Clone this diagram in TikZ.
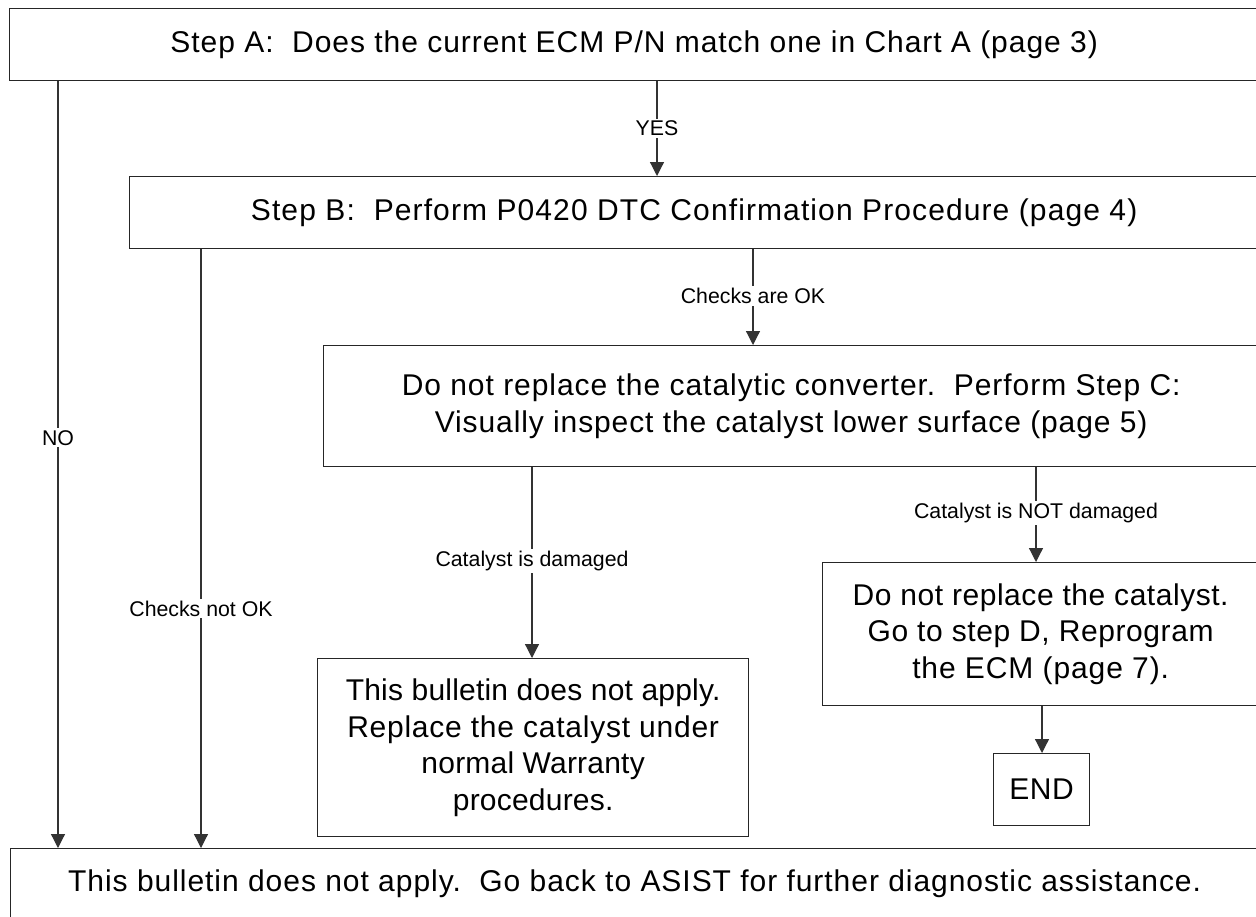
\documentclass[tikz,border=0pt]{standalone}
\usepackage{fontspec}
\setmainfont{Liberation Sans}
\usetikzlibrary{arrows.meta}
\tikzset{
  box/.style={draw=black!85, line width=1.3pt, fill=white, anchor=north west,
    align=center, inner sep=0pt, font=\fontsize{30}{36.5}\selectfont},
  arr/.style={draw=black!80, line width=1.2pt, -{Triangle[width=14pt,length=14pt]}},
  lbl/.style={fill=white, inner sep=2pt, font=\fontsize{21.3}{24}\selectfont}
}
\newcommand{\ls}[1]{\addfontfeature{LetterSpace=#1}}
\begin{document}
\begin{tikzpicture}[x=1pt,y=-1pt]
\useasboundingbox (0,0) rectangle (1256,916);
\clip (0,0) rectangle (1256,916);
\fill[white] (0,0) rectangle (1256,916);
% boxes
\node[box, minimum width=1249pt, minimum height=72pt] (A) at (9,8)
  {\ls{3.2}Step A:\ \ Does the current ECM P/N match one in Chart A (page 3)};
\node[box, minimum width=1129pt, minimum height=72pt] (B) at (129,176)
  {\ls{3.7}Step B:\ \ Perform P0420 DTC Confirmation Procedure (page 4)};
\node[box, minimum width=935pt, minimum height=121pt] (C) at (323,345)
  {\ls{3.2}Do not replace the catalytic converter.\ \ Perform Step C:\\
   \ls{3.0}Visually inspect the catalyst lower surface (page 5)};
\node[box, minimum width=431pt, minimum height=178pt] (D) at (317,658)
  {\ls{0.7}This bulletin does not apply.\\
   \ls{2.5}Replace the catalyst under\\
   \ls{0.7}normal Warranty\\
   \ls{0.7}procedures.};
\node[box, minimum width=436pt, minimum height=143pt] (E) at (822,562)
  {\ls{1.8}Do not replace the catalyst.\\
   \ls{2.0}Go to step D, Reprogram\\
   \ls{3.0}the ECM (page 7).};
\node[box, minimum width=96pt, minimum height=72pt] (END) at (993,753) {\ls{2}END};
\node[box, minimum width=1248pt, minimum height=70pt] (F) at (10,848)
  {\ls{3.2}This bulletin does not apply.\ \ Go back to ASIST for further diagnostic assistance.};
% x positions of connectors
\coordinate (xno) at (58,0);
\coordinate (xnok) at (201,0);
\coordinate (xyes) at (657,0);
\coordinate (xok) at (753,0);
\coordinate (xdam) at (532,0);
\coordinate (xndam) at (1036,0);
\coordinate (xend) at (1042,0);
% connectors
\draw[arr] (A.south -| xyes) -- node[lbl]{YES} (B.north -| xyes);
\draw[arr] (A.south -| xno) -- node[lbl, pos=0.465]{NO} (F.north -| xno);
\draw[arr] (B.south -| xnok) -- node[lbl, pos=0.6]{Checks not OK} (F.north -| xnok);
\draw[arr] (B.south -| xok) -- node[lbl, pos=0.485]{Checks are OK} (C.north -| xok);
\draw[arr] (C.south -| xdam) -- node[lbl, pos=0.49]{Catalyst is damaged} (D.north -| xdam);
\draw[arr] (C.south -| xndam) -- node[lbl, pos=0.48]{Catalyst is NOT damaged} (E.north -| xndam);
\draw[arr] (E.south -| xend) -- (END.north -| xend);
\end{tikzpicture}
\end{document}
